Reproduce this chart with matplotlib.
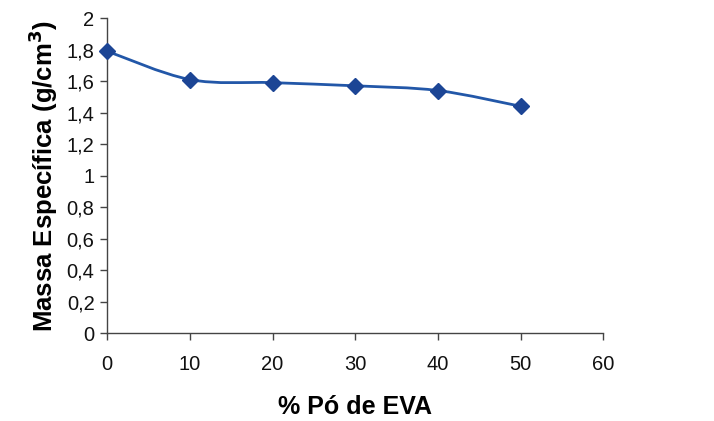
import matplotlib
matplotlib.use("Agg")
import matplotlib.pyplot as plt
from matplotlib.path import Path
from matplotlib.patches import PathPatch
import numpy as np

plt.rcParams['font.family'] = ['Liberation Sans', 'DejaVu Sans']

eva_pct = [0, 10, 20, 30, 40, 50]
densidade = [1.79, 1.61, 1.59, 1.57, 1.54, 1.44]
x_ticks = [0, 10, 20, 30, 40, 50, 60]
y_ticks = [0, 0.2, 0.4, 0.6, 0.8, 1.0, 1.2, 1.4, 1.6, 1.8, 2.0]
y_tick_labels = ['0', '0,2', '0,4', '0,6', '0,8', '1', '1,2', '1,4', '1,6', '1,8', '2']

fig = plt.figure(figsize=(7.14, 4.21), dpi=100)
ax = fig.add_axes([0.150, 0.209, 0.695, 0.748])

# smoothed connecting line (Catmull-Rom converted to cubic Bezier segments)
xs = np.array(eva_pct, float)
ys = np.array(densidade, float)
verts = [(xs[0], ys[0])]
codes = [Path.MOVETO]
n = len(xs)
for i in range(n - 1):
    p0 = np.array([xs[max(i - 1, 0)], ys[max(i - 1, 0)]])
    p1 = np.array([xs[i], ys[i]])
    p2 = np.array([xs[i + 1], ys[i + 1]])
    p3 = np.array([xs[min(i + 2, n - 1)], ys[min(i + 2, n - 1)]])
    c1 = p1 + (p2 - p0) / 6.0
    c2 = p2 - (p3 - p1) / 6.0
    verts += [tuple(c1), tuple(c2), tuple(p2)]
    codes += [Path.CURVE4] * 3
ax.add_patch(PathPatch(Path(verts, codes), facecolor='none',
                       edgecolor='#2257a8', lw=2.0, zorder=2))
ax.plot(eva_pct, densidade, linestyle='none', marker='D', markersize=8,
        color='#1c4595', zorder=3, clip_on=False)

ax.set_xlim(0, 60)
ax.set_ylim(0, 2)
ax.set_xticks(x_ticks)
ax.set_xticklabels([str(v) for v in x_ticks])
ax.set_yticks(y_ticks)
ax.set_yticklabels(y_tick_labels)

for s in ['top', 'right']:
    ax.spines[s].set_visible(False)
for s in ['left', 'bottom']:
    ax.spines[s].set_color('#444444')
    ax.spines[s].set_linewidth(1.0)

ax.tick_params(axis='x', direction='out', length=5, width=1, colors='#444444',
               labelcolor='#111111', labelsize=14.5, pad=11)
ax.tick_params(axis='y', direction='out', length=5, width=1, colors='#444444',
               labelcolor='#111111', labelsize=14.5, pad=4)

ax.set_xlabel('% Pó de EVA', fontsize=18, fontweight='bold', labelpad=15)
ax.set_ylabel('Massa Específica (g/cm$^\\mathbf{3}$)', fontsize=18.5,
              fontweight='bold', labelpad=5)

fig.savefig('out.png', dpi=100, facecolor='white')
